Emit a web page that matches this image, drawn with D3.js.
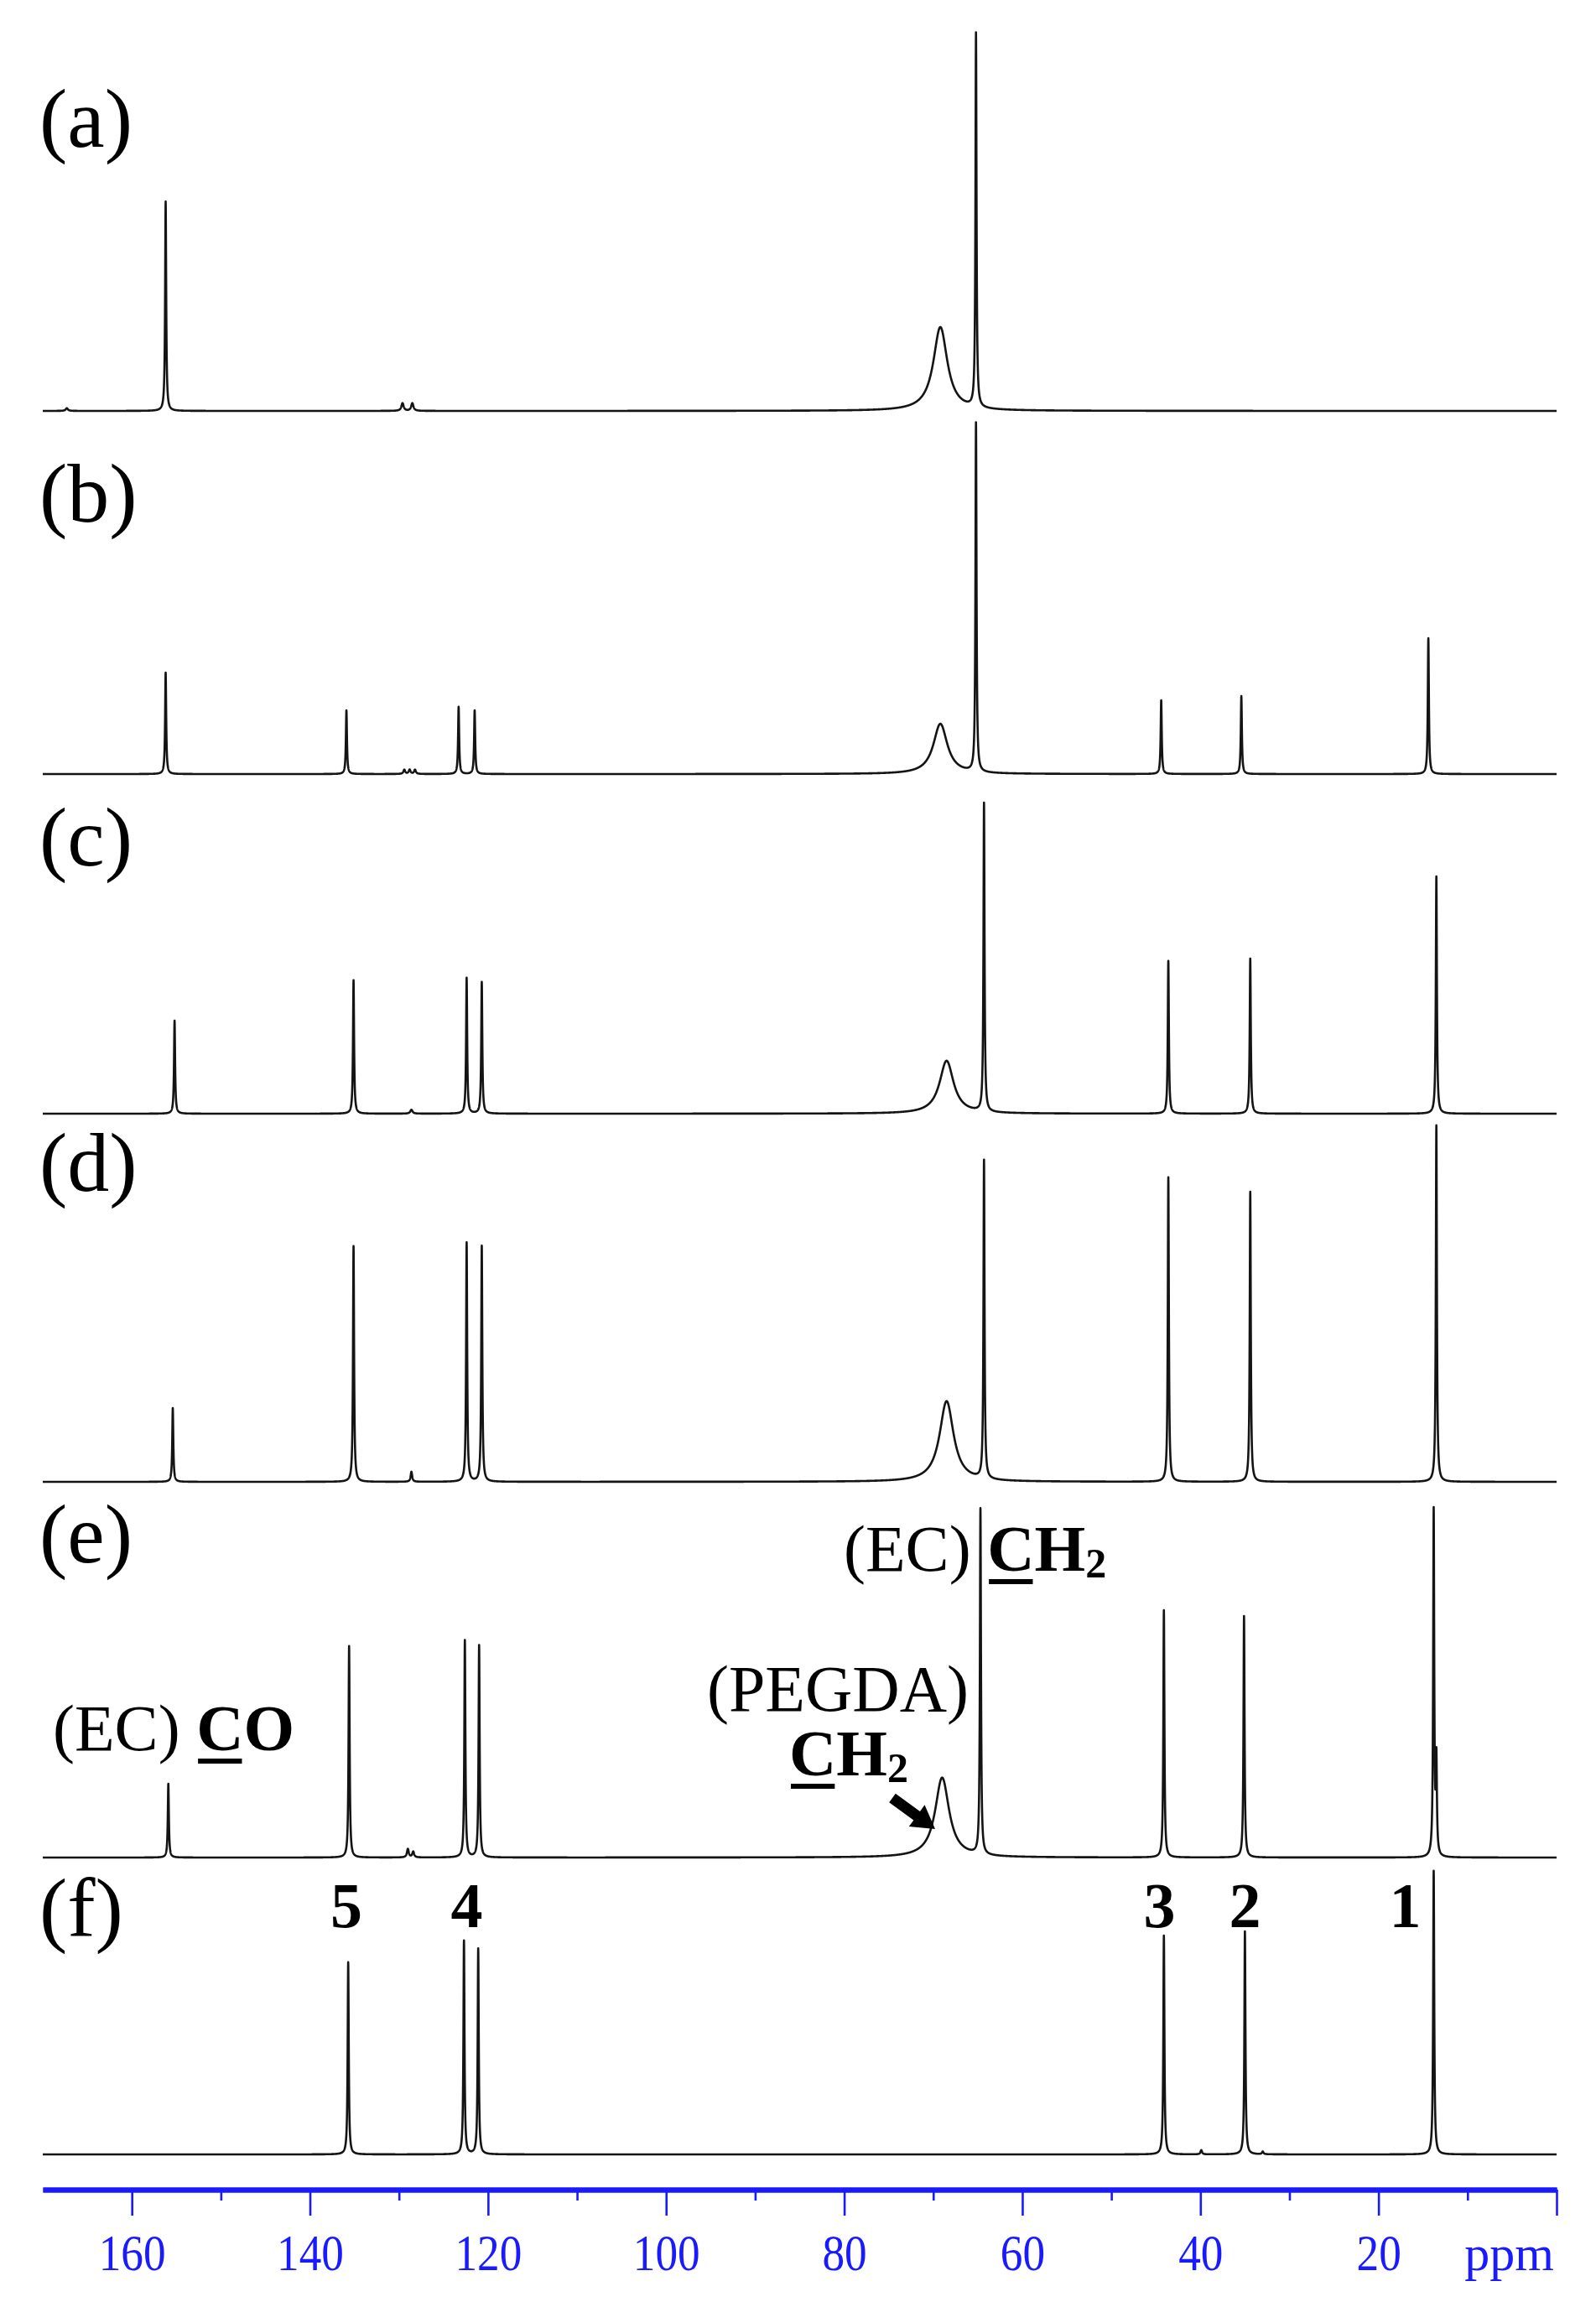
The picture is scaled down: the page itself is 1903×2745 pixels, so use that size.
<!DOCTYPE html>
<html><head><meta charset="utf-8">
<script src="https://cdn.jsdelivr.net/npm/d3@7"></script>
<style>body{margin:0;background:#fff} svg{display:block;background:#fff}</style>
</head><body>
<svg id="chart" width="1903" height="2745"></svg>
<script>
// ---------- DATA ----------
const panelLabels = ["(a)", "(b)", "(c)", "(d)", "(e)", "(f)"];
// peaks: [chemical shift (ppm), relative intensity (0-100), half width at half height (ppm)]
const peaksA = [[167.3,0.7,0.15],[156.2,54.3,0.07],[129.6,2.0,0.15],[128.5,2.0,0.15],[69.2,21.7,0.95],[65.2,97.0,0.07]];
const peaksB = [[156.2,26.3,0.07],[135.9,16.5,0.07],[129.4,1.1,0.12],[128.8,1.1,0.12],[128.2,1.1,0.12],[123.3,17.4,0.07],[121.5,16.5,0.07],[69.2,13.0,0.95],[65.2,90.5,0.07],[44.4,19.1,0.07],[35.4,20.2,0.07],[14.4,35.2,0.07]];
const peaksC = [[155.2,24.1,0.07],[135.1,34.6,0.07],[128.6,1.0,0.15],[122.4,35.2,0.07],[120.7,34.1,0.07],[68.5,13.7,0.95],[64.3,80.0,0.07],[43.6,39.6,0.07],[34.4,40.2,0.07],[13.5,61.5,0.07]];
const peaksD = [[155.4,19.1,0.07],[135.1,61.1,0.07],[128.6,2.6,0.1],[122.4,62.0,0.07],[120.7,61.1,0.07],[68.5,20.9,0.95],[64.3,82.5,0.07],[43.6,78.9,0.07],[34.4,75.2,0.07],[13.5,92.4,0.07]];
const peaksE = [[155.9,19.1,0.07],[135.6,54.8,0.07],[129.0,2.2,0.12],[128.4,1.5,0.12],[122.6,56.3,0.07],[121.0,55.0,0.07],[69.0,20.7,0.95],[64.7,89.6,0.07],[44.1,64.1,0.07],[35.1,62.6,0.07],[13.8,89.6,0.07],[13.5,24.0,0.07]];
const peaksF = [[135.7,49.8,0.07],[122.7,55.4,0.07],[121.1,53.3,0.07],[44.1,56.7,0.07],[39.9,1.1,0.1],[35.0,57.8,0.07],[33.0,0.7,0.1],[13.8,73.5,0.07]];
const spectra = [peaksA, peaksB, peaksC, peaksD, peaksE, peaksF];
const majorTicks = [160, 140, 120, 100, 80, 60, 40, 20, 0];
const minorTicks = [150, 130, 110, 90, 70, 50, 30, 10];
const peakNumbers = ["5", "4", "3", "2", "1"];
const peakNumberPpm = [135.9, 122.4, 44.6, 35.0, 17.0];
const axisUnit = "ppm";

// ---------- LAYOUT ----------
const W = 1903, H = 2745;
const baselines = [490, 923, 1328, 1767, 2215, 2569];
const labelBaselines = [175, 622, 1032, 1420, 1863, 2309];
const axisY = 2611;
const serif = "'Liberation Serif','Times New Roman',Times,serif";

const svg = d3.select("#chart");
const x = d3.scaleLinear().domain([170, 0]).range([51, 1856]);
const yH = d3.scaleLinear().domain([0, 100]).range([0, 460]);

// sampling grid for line shapes
const grid = d3.range(0, 17001).map(i => +(170 - i * 0.01).toFixed(2));
function lorentz(p, peaks) {
  let s = 0;
  for (const [c, h, w] of peaks) { const d = p - c; s += h * (w * w) / (d * d + w * w); }
  return s;
}
const line = d3.line().x(d => x(d[0])).y(d => d[1]);

spectra.forEach((peaks, i) => {
  const base = baselines[i];
  const pts = grid.map(p => [p, base - yH(lorentz(p, peaks))]);
  svg.append("path").attr("d", line(pts))
    .attr("fill", "none").attr("stroke", "#141414").attr("stroke-width", 2.6)
    .attr("stroke-linejoin", "round");
  svg.append("text").attr("x", 47).attr("y", labelBaselines[i])
    .attr("font-family", serif).attr("font-size", 100).attr("fill", "#000")
    .text(panelLabels[i]);
});

// peak numbers in (f)
svg.selectAll("text.num").data(peakNumbers).enter().append("text")
  .attr("class", "num").attr("x", (d, i) => x(peakNumberPpm[i])).attr("y", 2298)
  .attr("text-anchor", "middle").attr("font-family", serif).attr("font-weight", "bold")
  .attr("font-size", 76).text(d => d);

// ---------- ANNOTATIONS ----------
function underlineChar(textSel, idx) {
  const node = textSel.node();
  const ext = node.getExtentOfChar(idx);
  const by = +textSel.attr("y");
  svg.append("rect").attr("x", ext.x + 2).attr("y", by + 10)
    .attr("width", ext.width - 4).attr("height", 6).attr("fill", "#000");
}
// (EC) CO
const t1 = svg.append("text").attr("x", 63).attr("y", 2087)
  .attr("font-family", serif).attr("font-size", 78);
t1.append("tspan").text("(EC) ");
t1.append("tspan").attr("font-weight", "bold").text("CO");
underlineChar(t1, 5);

// (EC) CH2
const t2 = svg.append("text").attr("x", 1006).attr("y", 1873)
  .attr("font-family", serif).attr("font-size", 78);
t2.append("tspan").text("(EC) ");
t2.append("tspan").attr("font-weight", "bold").text("CH");
t2.append("tspan").attr("font-weight", "bold").attr("font-size", 50).attr("dy", 8).text("2");
underlineChar(t2, 5);

// (PEGDA) CH2
svg.append("text").attr("x", 843).attr("y", 2040)
  .attr("font-family", serif).attr("font-size", 78).text("(PEGDA)");
const t3 = svg.append("text").attr("x", 941).attr("y", 2117)
  .attr("font-family", serif).attr("font-size", 78).attr("font-weight", "bold");
t3.append("tspan").text("CH");
t3.append("tspan").attr("font-size", 50).attr("dy", 8).text("2");
underlineChar(t3, 0);

// arrow
(function () {
  const tail = [1064, 2144], tip = [1115, 2181];
  const dx = tip[0] - tail[0], dy = tip[1] - tail[1], L = Math.hypot(dx, dy);
  const u = [dx / L, dy / L], n = [-u[1], u[0]];
  const sw = 6.5, hl = 27, hw = 16;
  const neck = [tip[0] - u[0] * hl, tip[1] - u[1] * hl];
  const P = (p, k) => [p[0] + n[0] * k, p[1] + n[1] * k];
  const pts = [P(tail, sw), P(neck, sw), P(neck, hw), tip, P(neck, -hw), P(neck, -sw), P(tail, -sw)];
  svg.append("path").attr("d", "M" + pts.map(p => p.join(",")).join("L") + "Z").attr("fill", "#000");
})();

// ---------- AXIS ----------
const blue = "#1a1aff";
const gMinor = svg.append("g").attr("transform", `translate(0,${axisY})`)
  .call(d3.axisBottom(x).tickValues(minorTicks).tickSize(13).tickSizeOuter(0).tickFormat(""));
const gMajor = svg.append("g").attr("transform", `translate(0,${axisY})`)
  .call(d3.axisBottom(x).tickValues(majorTicks).tickSize(31).tickSizeOuter(0)
    .tickFormat(d => d === 0 ? "" : d));
[gMinor, gMajor].forEach(g => {
  g.selectAll(".tick line").attr("stroke", blue).attr("stroke-width", 2.6);
  g.select(".domain").attr("stroke", blue).attr("stroke-width", 6);
});
gMajor.selectAll(".tick text")
  .attr("y", 96).attr("dy", null)
  .attr("transform", "scale(0.86,1)")
  .attr("fill", blue).attr("font-family", serif).attr("font-size", 62);
svg.append("text").attr("x", 1853).attr("y", 2707).attr("text-anchor", "end")
  .attr("font-family", serif).attr("font-size", 60).attr("fill", blue).text(axisUnit);
</script>
</body></html>
